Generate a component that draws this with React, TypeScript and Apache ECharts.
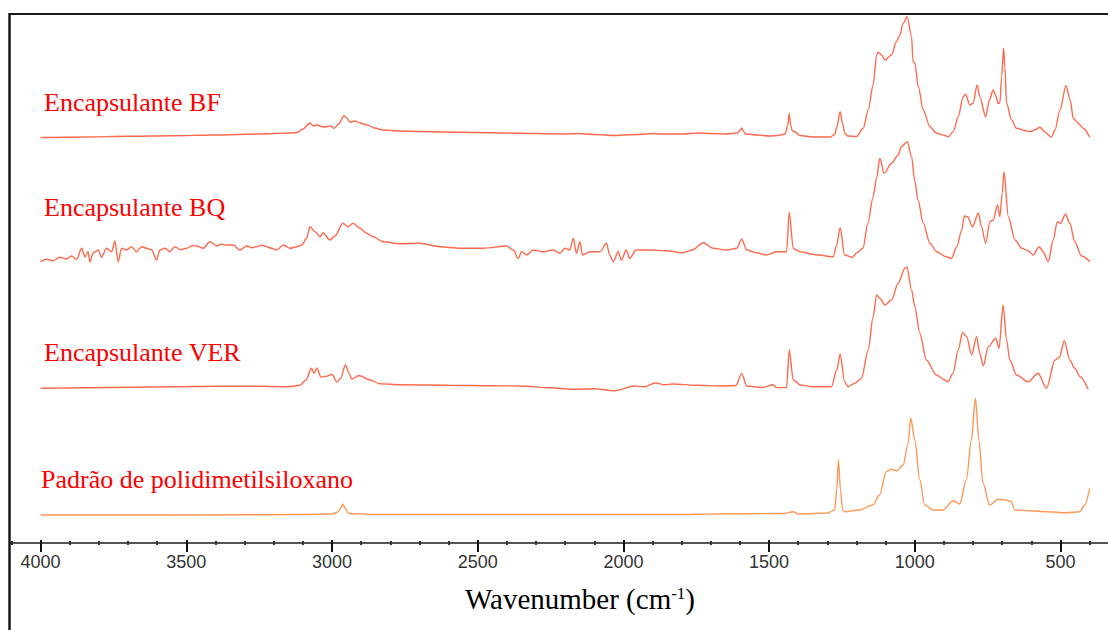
import React, { useEffect, useRef } from 'react';
import * as echarts from 'echarts';

// Axis ticks (wavenumber, cm-1)
const majorTicks = [4000, 3500, 3000, 2500, 2000, 1500, 1000, 500];
const minorTicks = [4100, 3900, 3800, 3700, 3600, 3400, 3300, 3200, 3100, 2900, 2800, 2700, 2600, 2400, 2300, 2200, 2100, 1900, 1800, 1700, 1600, 1400, 1300, 1200, 1100, 900, 800, 700, 600, 400];

const seriesNames = ['Encapsulante BF', 'Encapsulante BQ', 'Encapsulante VER', 'Padrão de polidimetilsiloxano'];
// vertical stacking offsets (arbitrary absorbance units)
const offsets = [405.5, 281.3, 154.7, 28];

// [wavenumber, absorbance (a.u.)]
const bfSpectrum: [number, number][] = [
  [4000, 0], [3850, 0.5], [3700, 1.2], [3550, 1.8], [3400, 2.5], [3250, 3.5], [3150, 4.5], [3120, 5], [3100, 8.5],
  [3076, 14.5], [3064, 11.5], [3052, 12.5], [3029, 10.5], [3005, 11.5], [2993, 9.2], [2977, 13.5], [2959, 21.8],
  [2949, 19.5], [2939, 15.5], [2920, 16.5], [2904, 14.5], [2880, 12.5], [2853, 9.5], [2825, 7.5], [2767, 6.5],
  [2700, 6], [2600, 5.5], [2500, 5], [2400, 4.5], [2300, 4], [2200, 3.5], [2150, 4], [2100, 3], [2030, 2], [2000, 2.5],
  [1950, 3], [1900, 4], [1870, 3.5], [1800, 3.5], [1740, 4.5], [1700, 4], [1650, 3.5], [1610, 4.5], [1600, 7],
  [1594, 9.5], [1588, 6], [1580, 3.5], [1540, 2.5], [1500, 1.5], [1470, 2], [1445, 3.5], [1436, 12], [1431, 24.2],
  [1426, 12], [1420, 6.5], [1410, 5.5], [1395, 2], [1350, 0.5], [1290, 0.5], [1275, 3], [1268, 10], [1256, 25.8],
  [1248, 14], [1240, 4], [1230, 1.5], [1200, 1], [1177, 9.2], [1160, 27.5], [1143, 52.5], [1131, 82.5], [1126, 85.2],
  [1114, 82.5], [1103, 77.5], [1080, 82.5], [1063, 95.8], [1051, 102.5], [1040, 114.2], [1026, 120.8], [1011, 100.8],
  [1006, 75.8], [1000, 74.5], [988, 50.8], [971, 27.5], [948, 10.8], [925, 4.2], [897, 2], [885, 0.8], [868, 5.8],
  [851, 20.8], [834, 40.8], [826, 43.2], [811, 32.5], [800, 34.2], [786, 52.5], [777, 40.8], [757, 20.8], [744, 37.5],
  [731, 47.5], [723, 42.5], [714, 34.2], [708, 34.2], [702, 60.8], [695, 89.2], [691, 70.8], [685, 34.2], [668, 17.5],
  [651, 9.2], [616, 6.5], [605, 5.8], [585, 8], [571, 10.2], [554, 5.8], [531, 0.2], [519, 7.5], [502, 27.5],
  [481, 51.8], [467, 37.5], [456, 19.2], [439, 14.2], [422, 9.2], [400, 0.2],
];

const bqSpectrum: [number, number][] = [
  [4000, 0], [3979, 2.4], [3957, 1], [3934, 4.4], [3911, 2.7], [3894, 5.7], [3876, 2.4], [3859, 13.4], [3848, 5],
  [3837, 10], [3831, 0], [3819, 9], [3802, 11.7], [3791, 4.4], [3774, 13.4], [3756, 10], [3745, 20.7], [3734, 0],
  [3722, 13.4], [3705, 11.7], [3688, 15], [3671, 10], [3653, 15], [3636, 13.4], [3619, 11.7], [3602, 1.7],
  [3591, 11.7], [3573, 13.4], [3556, 10], [3539, 15], [3520, 12], [3499, 13.4], [3480, 16], [3465, 15.7],
  [3442, 13.4], [3419, 20], [3396, 15.7], [3380, 17.5], [3362, 16.7], [3339, 16.7], [3316, 11.7], [3293, 15.7],
  [3275, 14], [3259, 15], [3240, 16.5], [3224, 15], [3207, 13.4], [3190, 11.7], [3167, 16.7], [3144, 13.4],
  [3121, 15], [3104, 16.7], [3087, 23.4], [3076, 35], [3058, 30], [3041, 25], [3031, 28.7], [3007, 21.7],
  [2990, 25.7], [2963, 38.4], [2945, 35], [2928, 38.4], [2904, 33.4], [2881, 28.4], [2859, 25], [2824, 20],
  [2767, 18], [2698, 18.4], [2630, 15], [2561, 13.4], [2481, 13.4], [2401, 15.7], [2378, 11.7], [2361, 3.4],
  [2349, 10], [2332, 6.7], [2310, 11.7], [2275, 10], [2241, 11.7], [2218, 8.4], [2201, 13.4], [2184, 11.7],
  [2172, 23.4], [2161, 8.4], [2149, 20], [2140, 6.7], [2115, 10], [2081, 10], [2058, 18.4], [2047, 6.7], [2035, 0],
  [2018, 10], [2007, 1.7], [1990, 11.7], [1979, 3.4], [1956, 11.7], [1911, 11.7], [1854, 11], [1797, 9],
  [1763, 11.7], [1726, 19], [1692, 13.4], [1646, 11.7], [1611, 13.4], [1594, 22.4], [1577, 11.7], [1543, 9],
  [1509, 6.7], [1474, 10], [1440, 10], [1431, 49.4], [1417, 13.4], [1406, 11.7], [1394, 10], [1340, 7], [1280, 5],
  [1268, 16.7], [1256, 34], [1241, 6.7], [1214, 4.4], [1201, 8.4], [1178, 13.4], [1161, 38.4], [1143, 65],
  [1131, 83.7], [1120, 103.4], [1105, 88.4], [1080, 98.4], [1057, 106.7], [1046, 115], [1026, 120], [1011, 105],
  [1000, 80.7], [989, 61.7], [971, 38.4], [948, 18.4], [925, 10], [893, 5], [874, 3.4], [856, 15], [839, 31.7],
  [830, 45.7], [819, 45], [802, 35], [782, 48.4], [771, 35], [757, 18.4], [742, 40], [731, 41.7], [716, 56.7],
  [708, 45], [700, 68.4], [694, 90], [679, 45], [656, 21.7], [633, 13.4], [611, 11], [594, 6.7], [573, 15],
  [560, 10], [542, 0], [525, 21.7], [511, 40], [500, 38.4], [483, 47.4], [468, 38.4], [451, 20], [428, 5.7], [399, 0],
];

const verSpectrum: [number, number][] = [
  [4000, 0], [3850, 0.5], [3700, 1], [3550, 1.5], [3400, 2], [3250, 2], [3150, 1.5], [3110, 3], [3090, 8], [3070, 20],
  [3062, 15], [3052, 20.3], [3038, 11.3], [3020, 12], [3000, 13.8], [2983, 6.3], [2970, 10], [2954, 23.3],
  [2940, 14], [2932, 9.3], [2908, 12.8], [2871, 8.6], [2836, 4.5], [2765, 3.5], [2600, 3], [2450, 2.5], [2352, 2.3],
  [2250, 0.5], [2173, -1], [2100, -0.5], [2031, -2.4], [1961, 2.3], [1930, 1.5], [1889, 5.3], [1860, 3.5],
  [1830, 4.3], [1750, 3], [1665, 2.3], [1614, 2.8], [1594, 14.9], [1577, 2.3], [1522, 0.7], [1487, 3.5],
  [1473, 0.7], [1440, 0.7], [1431, 38.6], [1417, 8.3], [1406, 6.3], [1394, 3.3], [1349, 1.6], [1286, 1.6],
  [1268, 18.3], [1256, 34], [1241, 6.6], [1229, 1.6], [1206, 5], [1183, 10], [1160, 38.3], [1143, 71.6],
  [1131, 93.3], [1120, 90], [1103, 83.3], [1080, 88.3], [1057, 105], [1034, 120], [1027, 121.3], [1011, 98.3],
  [1000, 81.6], [983, 55], [960, 28.3], [926, 13.3], [897, 8.3], [886, 6.6], [869, 15], [851, 38.3], [836, 55.6],
  [822, 51.6], [805, 33.3], [788, 51.6], [777, 35], [765, 22.3], [748, 41.6], [722, 50], [711, 40], [697, 83.3],
  [685, 48.3], [674, 28.3], [651, 13.3], [611, 6.6], [577, 15], [548, 0], [519, 28.3], [504, 31], [487, 47.6],
  [468, 28.3], [451, 20], [433, 11.6], [405, -1],
];

const pdmsSpectrum: [number, number][] = [
  [4000, 0], [3500, 0], [3100, 0.5], [3000, 1], [2980, 3], [2970, 7], [2963, 10.7], [2955, 7], [2945, 2], [2930, 1],
  [2905, 1.4], [2880, 0.5], [2500, 0.5], [1800, 0.5], [1700, 1], [1450, 1.5], [1417, 3.3], [1400, 1], [1300, 2],
  [1275, 5], [1268, 25], [1262, 55], [1255, 25], [1248, 5], [1241, 3.3], [1190, 5], [1144, 10], [1121, 20],
  [1098, 43.3], [1081, 45.7], [1063, 44.3], [1040, 50], [1023, 71.7], [1014, 96.7], [1000, 75], [983, 35],
  [966, 10], [937, 5], [903, 5], [869, 14.3], [846, 11], [823, 35], [806, 75], [792, 116.7], [780, 75],
  [766, 31.7], [743, 10], [715, 15.7], [686, 15], [669, 13.3], [657, 5], [606, 4.3], [548, 3.3], [480, 2.3],
  [434, 3.3], [417, 10], [400, 26.7],
];

const spectra = [bfSpectrum, bqSpectrum, verSpectrum, pdmsSpectrum];
const lineColors = ['#ff5a3c', '#ff5a3c', '#ff5a3c', '#ff8c45'];
const labelPos = [
  [44, 102],
  [44, 207],
  [44, 352],
  [41, 479],
];

const X_MIN = 337;
const X_MAX = 4105;

function baseX(extra: any) {
  return {
    type: 'value',
    min: X_MIN,
    max: X_MAX,
    inverse: true,
    position: 'bottom',
    gridIndex: 0,
    splitLine: { show: false },
    ...extra,
  };
}

export default function App() {
  const ref = useRef<HTMLDivElement>(null);
  useEffect(() => {
    document.body.style.margin = '0';
    const chart = echarts.init(ref.current!, null, { renderer: 'svg' });
    const serif = 'Liberation Serif';
    const option: any = {
      animation: false,
      backgroundColor: '#ffffff',
      grid: { left: 10, right: 0, top: 14, bottom: 87, containLabel: false },
      xAxis: [
        baseX({
          axisLine: { show: true, lineStyle: { color: '#555', width: 2 } },
          axisTick: { show: true, customValues: majorTicks, length: 9, lineStyle: { color: '#111', width: 2 } },
          axisLabel: {
            show: true,
            customValues: majorTicks,
            margin: 10,
            fontSize: 18,
            color: '#333',
            fontFamily: 'Liberation Sans',
            formatter: (v: number) => String(v),
          },
        }),
        baseX({
          axisLine: { show: false },
          axisTick: { show: true, inside: true, customValues: majorTicks, length: 3, lineStyle: { color: '#111', width: 2 } },
          axisLabel: { show: false },
        }),
        baseX({
          axisLine: { show: false },
          axisTick: { show: true, customValues: minorTicks, length: 2, lineStyle: { color: '#333', width: 2 } },
          axisLabel: { show: false },
        }),
        baseX({
          axisLine: { show: false },
          axisTick: { show: true, inside: true, customValues: minorTicks, length: 2, lineStyle: { color: '#333', width: 2 } },
          axisLabel: { show: false },
        }),
      ],
      yAxis: { type: 'value', min: 0, max: 529, show: false },
      series: spectra.map((sp, i) => ({
        type: 'line',
        name: seriesNames[i],
        xAxisIndex: 0,
        data: sp.map(([w, a]) => [w, a + offsets[i]]),
        showSymbol: false,
        symbol: 'none',
        smooth: 0.3,
        smoothMonotone: 'x',
        lineStyle: { color: lineColors[i], width: 1.4, opacity: 0.9 },
        z: 3,
      })),
      graphic: [
        { type: 'line', shape: { x1: 10, y1: 14, x2: 1108, y2: 14 }, style: { stroke: '#1a1a1a', lineWidth: 2 }, z: 10 },
        { type: 'line', shape: { x1: 9.5, y1: 13, x2: 9.5, y2: 630 }, style: { stroke: '#111', lineWidth: 2.4 }, z: 10 },
        ...seriesNames.map((name, i) => ({
          type: 'text',
          x: labelPos[i][0],
          y: labelPos[i][1],
          style: {
            text: name,
            fill: '#ff0000',
            fontSize: 26,
            fontFamily: serif,
            align: 'left',
            verticalAlign: 'middle',
          },
          z: 10,
        })),
        {
          type: 'text',
          x: 580,
          y: 599,
          style: {
            text: 'Wavenumber (cm{sup|-1})',
            fill: '#000',
            fontSize: 29,
            fontFamily: serif,
            align: 'center',
            verticalAlign: 'middle',
            rich: {
              sup: { fontSize: 17, fontFamily: serif, fill: '#000', verticalAlign: 'top' },
            },
          },
          z: 10,
        },
      ],
    };
    chart.setOption(option);
    return () => chart.dispose();
  }, []);
  return <div ref={ref} style={{ width: 1108, height: 630, position: 'absolute', left: 0, top: 0 }} />;
}
